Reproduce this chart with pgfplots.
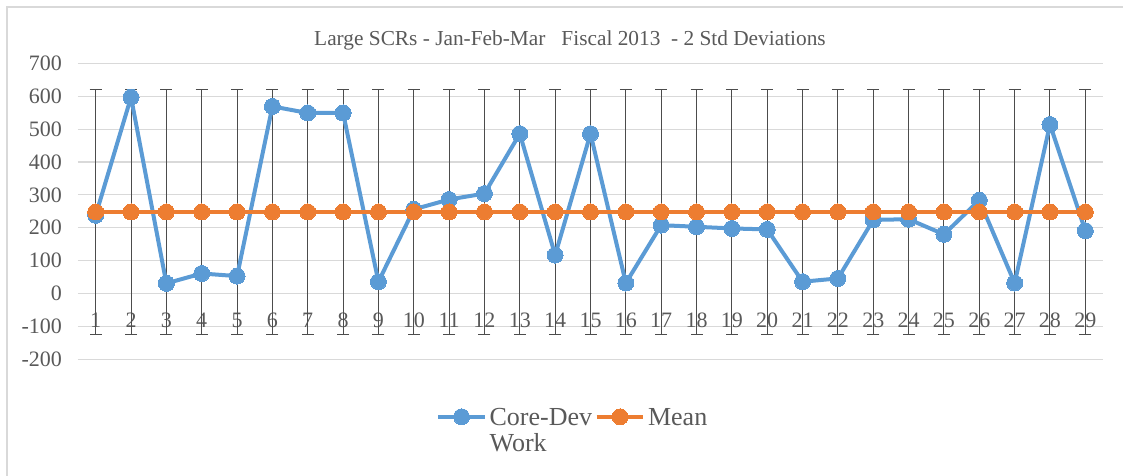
\documentclass[border=0pt]{standalone}
\usepackage{fontspec}
\setmainfont{Liberation Serif}
\usepackage{pgfplots}
\pgfplotsset{compat=1.18}
\usepackage{pgfplotstable}
\definecolor{cblue}{HTML}{5B9BD5}
\definecolor{corange}{HTML}{ED7D31}
\definecolor{tgray}{HTML}{595959}
\definecolor{ggray}{HTML}{D9D9D9}
\pgfplotstableread{
x core mean err
1 238 248 373
2 597 248 373
3 31 248 373
4 61 248 373
5 53 248 373
6 569 248 373
7 549 248 373
8 549 248 373
9 36 248 373
10 256 248 373
11 286 248 373
12 304 248 373
13 486 248 373
14 117 248 373
15 486 248 373
16 32 248 373
17 208 248 373
18 203 248 373
19 198 248 373
20 195 248 373
21 36 248 373
22 46 248 373
23 224 248 373
24 226 248 373
25 180 248 373
26 284 248 373
27 32 248 373
28 514 248 373
29 191 248 373
}\datatable
\begin{document}
\begin{tikzpicture}
\begin{axis}[
  scale only axis,
  width=768.75pt, height=222pt,
  xmin=0.5, xmax=29.5,
  ymin=-200, ymax=700,
  ytick={-200,-100,...,700},
  xtick={1,...,29},
  axis line style={draw=none},
  major tick length=0pt,
  ymajorgrids,
  grid style={ggray, line width=0.9pt},
  /pgf/number format/assume math mode=true,
  tick label style={font=\fontsize{16.5}{19}\selectfont, text=tgray},
  yticklabel style={xshift=-8.5pt},
  xticklabel style={anchor=center, yshift=29.5pt},
  legend style={draw=none, fill=none, legend columns=2,
     at={(0.483,-0.143)}, anchor=north,
     font=\fontsize{19.5}{19.5}\selectfont, text=tgray,
     cells={anchor=base west},
     /tikz/every even column/.append style={column sep=0pt}},
  legend image code/.code={\draw[mark repeat=2,mark phase=2] plot coordinates {(0pt,6.5pt)(17.5pt,6.5pt)(35pt,6.5pt)};},
  clip=false,
]
\addplot[draw=none, forget plot, mark=none,
  error bars/.cd, y dir=both, y explicit,
  error bar style={line width=0.75pt, color=black!70},
  error mark options={rotate=90, mark size=4.5pt, line width=0.75pt, color=black!70}]
  table[x=x, y=mean, y error=err] {\datatable};
\addplot[cblue, line width=3pt, mark=*, mark size=6pt, mark options={fill=cblue, draw=cblue, line width=0pt}]
  table[x=x, y=core] {\datatable};
\addlegendentry{\begin{tabular}[t]{@{}l@{}}Core-Dev\\Work\end{tabular}}
\addplot[corange, line width=3pt, mark=*, mark size=6pt, mark options={fill=corange, draw=corange, line width=0pt}]
  table[x=x, y=mean] {\datatable};
\addlegendentry{Mean}
\node[font=\fontsize{16}{19}\selectfont, text=tgray] at ([xshift=369pt, yshift=17.5pt]rel axis cs:0,1) {Large SCRs - Jan-Feb-Mar\ \ \ Fiscal 2013\ \ - 2 Std Deviations};
\end{axis}
\path[use as bounding box] ([xshift=-58.5pt,yshift=-87.5pt]current axis.south west) rectangle ([xshift=15pt,yshift=47.5pt]current axis.north east);
\draw[ggray, line width=1.5pt] ([xshift=-53.25pt,yshift=-87.5pt]current axis.south west) -- ([xshift=-53.25pt,yshift=42.2pt]current axis.north west) -- ([xshift=15pt,yshift=42.2pt]current axis.north east);
\end{tikzpicture}
\end{document}
